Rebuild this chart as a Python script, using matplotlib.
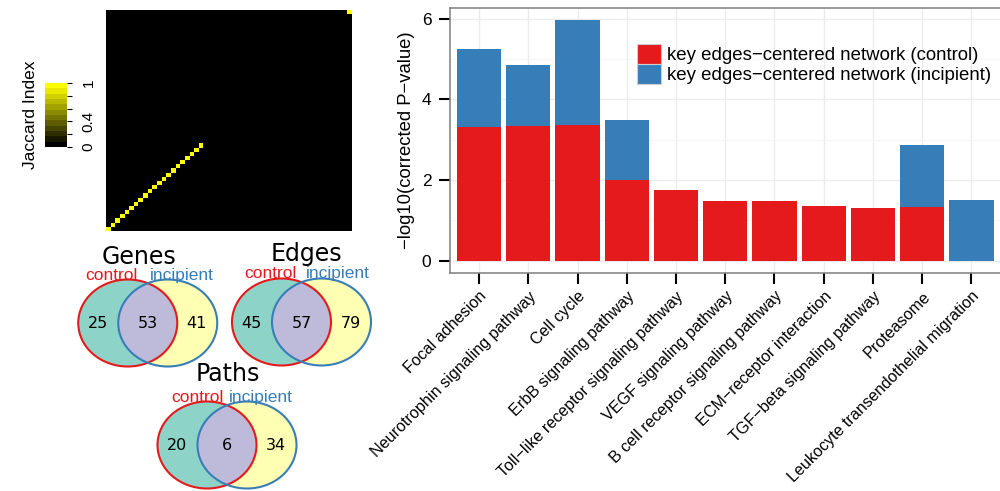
import numpy as np
import matplotlib
matplotlib.use("Agg")
import matplotlib.pyplot as plt
from matplotlib.colors import LinearSegmentedColormap
from matplotlib.patches import Ellipse, Patch

plt.rcParams["font.family"] = ["Liberation Sans", "DejaVu Sans"]

RED = "#e41a1c"
BLUE = "#377eb8"

# Pathway enrichment (-log10 corrected P) ------------------------------------
pathways = [
    "Focal adhesion",
    "Neurotrophin signaling pathway",
    "Cell cycle",
    "ErbB signaling pathway",
    "Toll\u2212like receptor signaling pathway",
    "VEGF signaling pathway",
    "B cell receptor signaling pathway",
    "ECM\u2212receptor interaction",
    "TGF\u2212beta signaling pathway",
    "Proteasome",
    "Leukocyte transendothelial migration",
]
control_logp = [3.31, 3.35, 3.37, 1.99, 1.745, 1.47, 1.47, 1.35, 1.30, 1.325, 0.0]
incipient_logp = [1.93, 1.51, 2.59, 1.51, 0.0, 0.0, 0.0, 0.0, 0.0, 1.535, 1.50]
legend_labels = [
    "key edges\u2212centered network (control)",
    "key edges\u2212centered network (incipient)",
]

# Jaccard index between matched paths (53 x 53, zero off the diagonal) --------
jaccard_diag = [1] * 21 + [0] * 31 + [1]
jaccard = np.diag(jaccard_diag).astype(float)
cbar_ticks = [0, 0.2, 0.4, 0.6, 0.8, 1.0]
cbar_ticklabels = ["0", "", "0.4", "", "", "1"]

# Overlap counts --------------------------------------------------------------
venn_titles = ["Genes", "Edges", "Paths"]
only_control = [25, 45, 20]
shared = [53, 57, 6]
only_incipient = [41, 79, 34]

# venn layout in pixels: centre, title, control label, incipient label, label baseline
venn_layout = [
    dict(c=(147.75, 323), title=(139, 264), lab=(111, 182, 280)),
    dict(c=(301.5, 322), title=(306.5, 261), lab=(270, 338, 278)),
    dict(c=(227, 445), title=(227.5, 381), lab=(197, 261, 402)),
]

fig = plt.figure(figsize=(10, 4.91), dpi=100)

# Heatmap ---------------------------------------------------------------------
cmap = LinearSegmentedColormap.from_list("jaccard", ["black", "yellow"], N=12)
hax = fig.add_axes([0.106, 0.5295, 0.246, 0.4501])
im = hax.imshow(jaccard, cmap=cmap, vmin=0, vmax=1, origin="lower",
                aspect="auto", interpolation="nearest")
hax.axis("off")

cax = fig.add_axes([0.045, 0.7006, 0.022, 0.1303])
cb = fig.colorbar(im, cax=cax)
cb.outline.set_visible(False)
cb.set_ticks(cbar_ticks)
cb.set_ticklabels(cbar_ticklabels)
cax.tick_params(length=3.5, width=0.8, color="black", labelsize=11, pad=7,
                labelrotation=90)
for t in cax.get_yticklabels():
    t.set_va("center")
cax.yaxis.set_label_position("left")
cb.set_label("Jaccard Index", fontsize=12.5, labelpad=5)

# Venn diagrams ---------------------------------------------------------------
ov = fig.add_axes([0, 0, 1, 1])
ov.set_xlim(0, 1000)
ov.set_ylim(491, 0)
ov.axis("off")

for i, lay in enumerate(venn_layout):
    cx, cy = lay["c"]
    w, h = 99, 87
    left = Ellipse((cx - 20, cy), w, h, facecolor="#8dd3c7", edgecolor="none")
    right = Ellipse((cx + 20, cy), w, h, facecolor="#ffffb3", edgecolor="none")
    ov.add_patch(right)
    ov.add_patch(left)
    both = Ellipse((cx + 20, cy), w, h, facecolor="#bebada", edgecolor="none")
    ov.add_patch(both)
    both.set_clip_path(left)
    ov.add_patch(Ellipse((cx - 20, cy), w, h, fill=False, edgecolor=RED, lw=1.5))
    ov.add_patch(Ellipse((cx + 20, cy), w, h, fill=False, edgecolor=BLUE, lw=1.5))

    for dx, n in zip([-50, 0, 49], [only_control[i], shared[i], only_incipient[i]]):
        ov.text(cx + dx, cy + 1, str(n), ha="center", va="center",
                fontsize=11.5, family="DejaVu Sans")
    tx, ty = lay["title"]
    ov.text(tx, ty, venn_titles[i], ha="center", va="baseline",
            fontsize=17, family="DejaVu Sans")
    lx1, lx2, ly = lay["lab"]
    ov.text(lx1, ly, "control", color=RED, ha="center", va="baseline", fontsize=12.5)
    ov.text(lx2, ly, "incipient", color=BLUE, ha="center", va="baseline", fontsize=12.5)

# Stacked bars ----------------------------------------------------------------
ax = fig.add_axes([0.4495, 0.4446, 0.5515, 0.5385])
x = np.arange(len(pathways))
ax.bar(x, control_logp, width=0.9, color=RED, zorder=2)
ax.bar(x, incipient_logp, width=0.9, bottom=control_logp, color=BLUE, zorder=2)

ax.set_xlim(-0.6, len(pathways) - 0.4)
ax.set_ylim(-0.298, 6.258)
ax.set_yticks([0, 2, 4, 6])
ax.set_yticks([1, 3, 5], minor=True)
ax.set_axisbelow(True)
ax.grid(which="major", color="#ebebeb", lw=0.9)
ax.grid(which="minor", axis="y", color="#f6f6f6", lw=0.8)
ax.tick_params(which="minor", length=0)
ax.tick_params(which="major", length=8, width=1.5, color="black")
ax.tick_params(axis="y", labelsize=12.5, pad=5)
ax.tick_params(axis="x", labelsize=11.6, pad=3.5)
for s in ax.spines.values():
    s.set_color("#7f7f7f")
    s.set_linewidth(1.1)

ax.set_xticks(x)
ax.set_xticklabels(pathways, rotation=45, ha="right", va="top",
                   rotation_mode="anchor")
ax.set_ylabel("\u2212log10(corrected P\u2212value)", fontsize=13.3)
ax.yaxis.set_label_coords(-0.063, 0.5)

handles = [Patch(facecolor=RED, edgecolor="#cccccc", lw=0.8),
           Patch(facecolor=BLUE, edgecolor="#cccccc", lw=0.8)]
ax.legend(handles, legend_labels, loc="upper left", bbox_to_anchor=(0.3405, 0.8638),
          frameon=False, fontsize=13.4, handlelength=1.29, handleheight=1.24,
          labelspacing=0, handletextpad=0.29, borderpad=0, borderaxespad=0)

fig.savefig("out.png", dpi=100)
